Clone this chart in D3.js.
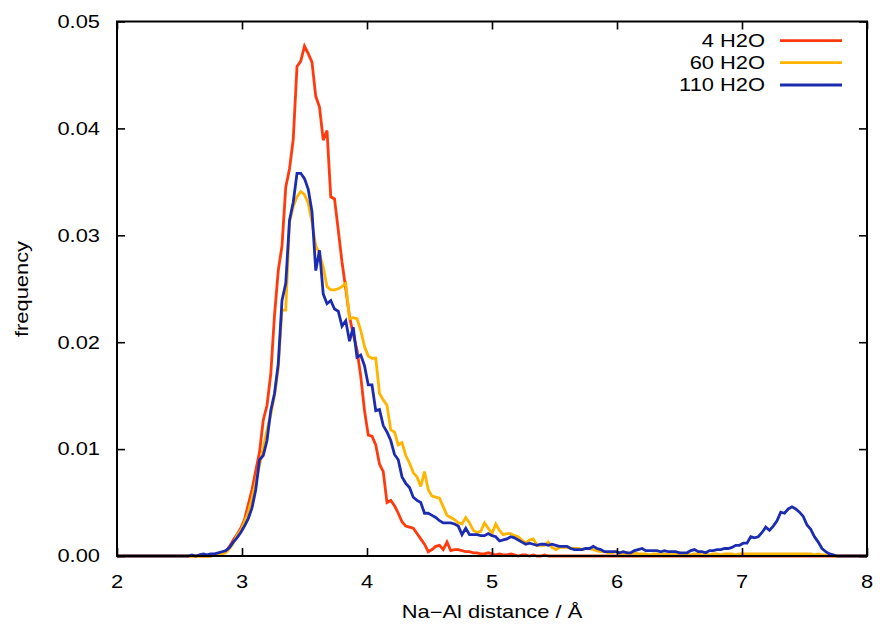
<!DOCTYPE html>
<html>
<head>
<meta charset="utf-8">
<script src="https://cdn.jsdelivr.net/npm/d3@7"></script>
<style>
  html, body { margin: 0; padding: 0; background: #fff; }
  svg { display: block; }
  text { font-family: "Liberation Sans", Arial, Helvetica, sans-serif; fill: #000; }
</style>
</head>
<body>
<svg id="chart" width="880" height="627"></svg>
<script>
// Histogram of Na–Al distances, 0.03 Å bins from 2.00 to 8.00 Å
const binStart = 2.0;
const binWidth = 0.03;

const seriesNames = ["4 H2O", "60 H2O", "110 H2O"];
const seriesColors = ["#ff3a0c", "#ffb400", "#1c2cb0"];

const freq4 = [
  0,0,0,0,0,0,0,0,0,0,
  0,0,0,0,0,0,0,0,0,0,
  0,0,0,0,0,0,0.0001,0.0001,0.0002,0.0004,
  0.0009,0.0015,0.0020,0.0026,0.0034,0.0048,0.0062,0.0080,0.0097,0.0127,
  0.0141,0.0170,0.0225,0.0267,0.0290,0.0345,0.0362,0.0390,0.0458,0.0463,
  0.0477,0.0470,0.0462,0.0430,0.0420,0.0389,0.0398,0.0336,0.0334,0.0305,
  0.0275,0.0250,0.0224,0.0207,0.0193,0.0168,0.0136,0.0113,0.0112,0.0104,
  0.0086,0.0079,0.0050,0.0052,0.0047,0.0040,0.0032,0.0028,0.0027,0.0026,
  0.0021,0.0016,0.0011,0.0004,0.0006,0.0009,0.0010,0.0006,0.0013,0.0005,
  0.0006,0.0006,0.0005,0.0004,0.0004,0.0003,0.0003,0.0002,0.0002,0.0003,
  0.0002,0.0001,0.0002,0.0001,0.0001,0.0002,0.0001,0,0.0001,0.0001,
  0,0.0001,0,0,0.0001,0,0,0,0,0,
  0,0,0,0,0,0,0,0,0,0,
  0,0,0,0,0,0,0,0,0,0,
  0,0,0,0,0,0,0,0,0,0,
  0,0,0,0,0,0,0,0,0,0,
  0,0,0,0,0,0,0,0,0,0,
  0,0,0,0,0,0,0,0,0,0,
  0,0,0,0,0,0,0,0,0,0,
  0,0,0,0,0,0,0,0,0,0,
  0
];

const freq60 = [
  0,0,0,0,0,0,0,0,0,0,
  0,0,0,0,0,0,0,0,0,0,
  0,0,0,0,0,0,0.0001,0.0001,0.0002,0.0003,
  0.0007,0.0012,0.0019,0.0024,0.0032,0.0041,0.0054,0.0069,0.0085,0.0101,
  0.0118,0.0132,0.0150,0.0175,0.0230,0.0230,0.0312,0.0327,0.0336,0.0341,
  0.0338,0.0330,0.0312,0.0290,0.0283,0.0270,0.0252,0.0249,0.0249,0.0250,
  0.0252,0.0255,0.0222,0.0223,0.0222,0.0211,0.0196,0.0187,0.0185,0.0185,
  0.0152,0.0146,0.0141,0.0118,0.0116,0.0104,0.0106,0.0094,0.0087,0.0078,
  0.0074,0.0065,0.0079,0.0062,0.0056,0.0055,0.0054,0.0046,0.0038,0.0036,
  0.0034,0.0031,0.0030,0.0036,0.0031,0.0024,0.0022,0.0023,0.0031,0.0026,
  0.0021,0.0030,0.0024,0.0020,0.0021,0.0021,0.0019,0.0018,0.0015,0.0012,
  0.0015,0.0016,0.0010,0.0010,0.0010,0.0013,0.0008,0.0006,0.0008,0.0008,
  0.0008,0.0007,0.0007,0.0007,0.0006,0.0007,0.0007,0.0006,0.0005,0.0004,
  0.0004,0.0003,0.0003,0.0004,0.0003,0.0002,0.0003,0.0002,0.0003,0.0002,
  0.0002,0.0002,0.0001,0.0002,0.0002,0.0001,0.0002,0.0002,0.0001,0.0002,
  0.0003,0.0002,0.0002,0.0001,0.0002,0.0002,0.0001,0.0002,0.0001,0.0002,
  0.0002,0.0001,0.0002,0.0002,0.0002,0.0001,0.0002,0.0002,0.0002,0.0002,
  0.0002,0.0002,0.0002,0.0002,0.0002,0.0002,0.0002,0.0002,0.0002,0.0002,
  0.0002,0.0002,0.0002,0.0002,0.0002,0.0002,0.0001,0.0002,0.0001,0.0001,
  0.0001,0,0,0,0,0,0,0,0,0,
  0
];

const freq110 = [
  0,0,0,0,0,0,0,0,0,0,
  0,0,0,0,0,0,0,0,0,0,
  0.0001,0,0.0001,0.0002,0.0001,0.0002,0.0002,0.0003,0.0004,0.0005,
  0.0008,0.0013,0.0017,0.0022,0.0028,0.0035,0.0045,0.0062,0.0090,0.0094,
  0.0108,0.0136,0.0152,0.0180,0.0239,0.0255,0.0314,0.0331,0.0358,0.0358,
  0.0353,0.0343,0.0322,0.0267,0.0286,0.0245,0.0236,0.0239,0.0231,0.0229,
  0.0215,0.0220,0.0201,0.0214,0.0186,0.0188,0.0178,0.0160,0.0160,0.0136,
  0.0137,0.0122,0.0116,0.0108,0.0095,0.0090,0.0074,0.0068,0.0064,0.0055,
  0.0052,0.0050,0.0040,0.0040,0.0038,0.0036,0.0033,0.0031,0.0031,0.0031,
  0.0030,0.0028,0.0020,0.0026,0.0020,0.0020,0.0020,0.0019,0.0019,0.0021,
  0.0019,0.0018,0.0014,0.0015,0.0016,0.0018,0.0017,0.0015,0.0013,0.0011,
  0.0012,0.0011,0.0010,0.0011,0.0011,0.0010,0.0011,0.0010,0.0009,0.0009,
  0.0009,0.0007,0.0006,0.0006,0.0006,0.0007,0.0007,0.0009,0.0007,0.0006,
  0.0004,0.0004,0.0004,0.0004,0.0003,0.0004,0.0003,0.0003,0.0005,0.0006,
  0.0007,0.0005,0.0005,0.0005,0.0005,0.0004,0.0005,0.0004,0.0004,0.0004,
  0.0003,0.0003,0.0003,0.0005,0.0006,0.0004,0.0004,0.0003,0.0005,0.0005,
  0.0006,0.0006,0.0007,0.0007,0.0008,0.0010,0.0010,0.0012,0.0012,0.0018,
  0.0017,0.0018,0.0022,0.0027,0.0024,0.0028,0.0033,0.0041,0.0040,0.0044,
  0.0046,0.0044,0.0041,0.0037,0.0029,0.0025,0.0018,0.0013,0.0007,0.0004,
  0.0002,0.0001,0,0,0,0,0,0,0,0,
  0
];

const xTicks = [2, 3, 4, 5, 6, 7, 8];
const yTicks = [0, 0.01, 0.02, 0.03, 0.04, 0.05];

const xLabel = "Na\u2212Al distance / \u00C5";
const yLabel = "frequency";

// ---- layout ----
const svg = d3.select("#chart");
const plotLeft = 117, plotRight = 867, plotTop = 21.5, plotBottom = 556;
const fontSize = 17.5;
const stretch = 1.25;

const x = d3.scaleLinear().domain([2, 8]).range([plotLeft, plotRight]);
const y = d3.scaleLinear().domain([0, 0.05]).range([plotBottom, plotTop]);

const allSeries = [freq4, freq60, freq110].map((vals, k) => ({
  name: seriesNames[k],
  color: seriesColors[k],
  points: vals.map((v, i) => [binStart + i * binWidth, v])
}));

// curves
const line = d3.line().x(d => x(d[0])).y(d => y(d[1]));
svg.append("g").attr("class", "curves")
  .selectAll("path").data(allSeries).join("path")
  .attr("d", d => line(d.points))
  .attr("fill", "none")
  .attr("stroke", d => d.color)
  .attr("stroke-width", 2.8)
  .attr("stroke-linejoin", "miter")
  .attr("stroke-miterlimit", 3);

// axes with inward ticks on all four sides
const tickLen = 8;
const axisG = svg.append("g").attr("class", "axes");

const bottomAxis = d3.axisBottom(x).tickValues(xTicks).tickSize(-tickLen).tickFormat("");
const topAxis = d3.axisTop(x).tickValues(xTicks).tickSize(-tickLen).tickFormat("");
const leftAxis = d3.axisLeft(y).tickValues(yTicks).tickSize(-tickLen).tickFormat("");
const rightAxis = d3.axisRight(y).tickValues(yTicks).tickSize(-tickLen).tickFormat("");

axisG.append("g").attr("transform", `translate(0,${plotBottom})`).call(bottomAxis);
axisG.append("g").attr("transform", `translate(0,${plotTop})`).call(topAxis);
axisG.append("g").attr("transform", `translate(${plotLeft},0)`).call(leftAxis);
axisG.append("g").attr("transform", `translate(${plotRight},0)`).call(rightAxis);
axisG.selectAll(".domain").remove();
axisG.selectAll(".tick line").attr("stroke", "#000").attr("stroke-width", 1.6);

axisG.append("rect")
  .attr("x", plotLeft).attr("y", plotTop)
  .attr("width", plotRight - plotLeft).attr("height", plotBottom - plotTop)
  .attr("fill", "none").attr("stroke", "#000").attr("stroke-width", 2);

// text helper: labels are set slightly wide along the baseline
function stretchedText(g, tx, ty, str, anchor, rotate) {
  return g.append("text")
    .attr("transform", `translate(${tx},${ty})${rotate ? ` rotate(${rotate})` : ""} scale(${stretch},1)`)
    .attr("text-anchor", anchor)
    .attr("font-size", fontSize)
    .text(str);
}

const labels = svg.append("g").attr("class", "labels");
xTicks.forEach(t => stretchedText(labels, x(t), 588, String(t), "middle"));
yTicks.forEach(t => stretchedText(labels, 100, y(t) + 6.3, d3.format(".2f")(t), "end"));

stretchedText(labels, 492, 618, xLabel, "middle");
stretchedText(labels, 28, 289, yLabel, "middle", -90);

// legend
const legend = svg.append("g").attr("class", "legend");
const legendRows = [40.7, 62.7, 85];
allSeries.forEach((s, k) => {
  stretchedText(legend, 765, legendRows[k] + 6.3, s.name, "end");
  legend.append("line")
    .attr("x1", 780).attr("x2", 842)
    .attr("y1", legendRows[k]).attr("y2", legendRows[k])
    .attr("stroke", s.color).attr("stroke-width", 2.8);
});
</script>
</body>
</html>
